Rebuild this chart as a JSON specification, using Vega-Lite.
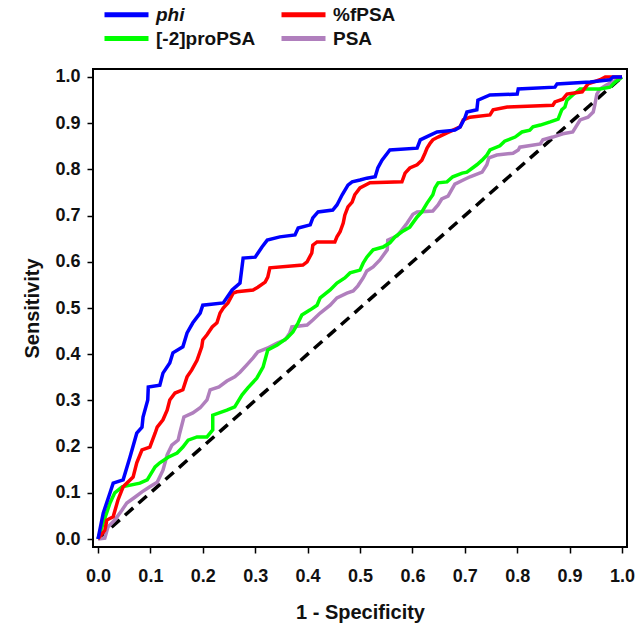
{
  "$schema": "https://vega.github.io/schema/vega-lite/v6.json",
  "width": 534,
  "height": 478,
  "autosize": {"type": "none"},
  "padding": {"left": 93, "top": 69, "right": 13, "bottom": 78},
  "config": {
    "view": {"stroke": "#000", "strokeWidth": 2},
    "font": "Liberation Sans"
  },
  "datasets": {
    "diag": [{"x": 0, "y": 0}, {"x": 1, "y": 1}],
    "roc": [
      {"s": "PSA", "x": 0, "y": 0},
      {"s": "PSA", "x": 0.013, "y": 0.002},
      {"s": "PSA", "x": 0.019, "y": 0.026},
      {"s": "PSA", "x": 0.032, "y": 0.041},
      {"s": "PSA", "x": 0.046, "y": 0.063},
      {"s": "PSA", "x": 0.055, "y": 0.078},
      {"s": "PSA", "x": 0.071, "y": 0.091},
      {"s": "PSA", "x": 0.084, "y": 0.102},
      {"s": "PSA", "x": 0.099, "y": 0.113},
      {"s": "PSA", "x": 0.113, "y": 0.123},
      {"s": "PSA", "x": 0.124, "y": 0.149},
      {"s": "PSA", "x": 0.132, "y": 0.182},
      {"s": "PSA", "x": 0.141, "y": 0.203},
      {"s": "PSA", "x": 0.153, "y": 0.214},
      {"s": "PSA", "x": 0.156, "y": 0.229},
      {"s": "PSA", "x": 0.164, "y": 0.264},
      {"s": "PSA", "x": 0.181, "y": 0.273},
      {"s": "PSA", "x": 0.195, "y": 0.284},
      {"s": "PSA", "x": 0.208, "y": 0.301},
      {"s": "PSA", "x": 0.214, "y": 0.323},
      {"s": "PSA", "x": 0.231, "y": 0.329},
      {"s": "PSA", "x": 0.246, "y": 0.342},
      {"s": "PSA", "x": 0.261, "y": 0.351},
      {"s": "PSA", "x": 0.271, "y": 0.361},
      {"s": "PSA", "x": 0.284, "y": 0.377},
      {"s": "PSA", "x": 0.296, "y": 0.392},
      {"s": "PSA", "x": 0.305, "y": 0.405},
      {"s": "PSA", "x": 0.323, "y": 0.413},
      {"s": "PSA", "x": 0.342, "y": 0.424},
      {"s": "PSA", "x": 0.357, "y": 0.431},
      {"s": "PSA", "x": 0.366, "y": 0.446},
      {"s": "PSA", "x": 0.370, "y": 0.459},
      {"s": "PSA", "x": 0.399, "y": 0.463},
      {"s": "PSA", "x": 0.410, "y": 0.474},
      {"s": "PSA", "x": 0.424, "y": 0.489},
      {"s": "PSA", "x": 0.443, "y": 0.506},
      {"s": "PSA", "x": 0.456, "y": 0.522},
      {"s": "PSA", "x": 0.475, "y": 0.532},
      {"s": "PSA", "x": 0.487, "y": 0.537},
      {"s": "PSA", "x": 0.496, "y": 0.548},
      {"s": "PSA", "x": 0.506, "y": 0.565},
      {"s": "PSA", "x": 0.513, "y": 0.580},
      {"s": "PSA", "x": 0.525, "y": 0.589},
      {"s": "PSA", "x": 0.538, "y": 0.604},
      {"s": "PSA", "x": 0.552, "y": 0.626},
      {"s": "PSA", "x": 0.553, "y": 0.647},
      {"s": "PSA", "x": 0.571, "y": 0.656},
      {"s": "PSA", "x": 0.580, "y": 0.669},
      {"s": "PSA", "x": 0.590, "y": 0.684},
      {"s": "PSA", "x": 0.601, "y": 0.703},
      {"s": "PSA", "x": 0.609, "y": 0.708},
      {"s": "PSA", "x": 0.639, "y": 0.710},
      {"s": "PSA", "x": 0.649, "y": 0.723},
      {"s": "PSA", "x": 0.656, "y": 0.736},
      {"s": "PSA", "x": 0.668, "y": 0.742},
      {"s": "PSA", "x": 0.681, "y": 0.768},
      {"s": "PSA", "x": 0.697, "y": 0.777},
      {"s": "PSA", "x": 0.710, "y": 0.784},
      {"s": "PSA", "x": 0.733, "y": 0.794},
      {"s": "PSA", "x": 0.742, "y": 0.810},
      {"s": "PSA", "x": 0.746, "y": 0.825},
      {"s": "PSA", "x": 0.761, "y": 0.831},
      {"s": "PSA", "x": 0.792, "y": 0.835},
      {"s": "PSA", "x": 0.802, "y": 0.842},
      {"s": "PSA", "x": 0.805, "y": 0.848},
      {"s": "PSA", "x": 0.844, "y": 0.855},
      {"s": "PSA", "x": 0.849, "y": 0.864},
      {"s": "PSA", "x": 0.868, "y": 0.870},
      {"s": "PSA", "x": 0.887, "y": 0.877},
      {"s": "PSA", "x": 0.906, "y": 0.881},
      {"s": "PSA", "x": 0.914, "y": 0.896},
      {"s": "PSA", "x": 0.920, "y": 0.907},
      {"s": "PSA", "x": 0.935, "y": 0.913},
      {"s": "PSA", "x": 0.945, "y": 0.924},
      {"s": "PSA", "x": 0.948, "y": 0.939},
      {"s": "PSA", "x": 0.952, "y": 0.963},
      {"s": "PSA", "x": 0.958, "y": 0.974},
      {"s": "PSA", "x": 0.971, "y": 0.983},
      {"s": "PSA", "x": 0.981, "y": 0.989},
      {"s": "PSA", "x": 0.990, "y": 0.994},
      {"s": "PSA", "x": 1, "y": 1},

      {"s": "[-2]proPSA", "x": 0, "y": 0},
      {"s": "[-2]proPSA", "x": 0.010, "y": 0.035},
      {"s": "[-2]proPSA", "x": 0.023, "y": 0.078},
      {"s": "[-2]proPSA", "x": 0.032, "y": 0.100},
      {"s": "[-2]proPSA", "x": 0.046, "y": 0.113},
      {"s": "[-2]proPSA", "x": 0.080, "y": 0.121},
      {"s": "[-2]proPSA", "x": 0.094, "y": 0.128},
      {"s": "[-2]proPSA", "x": 0.109, "y": 0.156},
      {"s": "[-2]proPSA", "x": 0.118, "y": 0.165},
      {"s": "[-2]proPSA", "x": 0.134, "y": 0.177},
      {"s": "[-2]proPSA", "x": 0.151, "y": 0.186},
      {"s": "[-2]proPSA", "x": 0.162, "y": 0.199},
      {"s": "[-2]proPSA", "x": 0.172, "y": 0.214},
      {"s": "[-2]proPSA", "x": 0.189, "y": 0.221},
      {"s": "[-2]proPSA", "x": 0.208, "y": 0.221},
      {"s": "[-2]proPSA", "x": 0.219, "y": 0.236},
      {"s": "[-2]proPSA", "x": 0.219, "y": 0.268},
      {"s": "[-2]proPSA", "x": 0.246, "y": 0.279},
      {"s": "[-2]proPSA", "x": 0.261, "y": 0.286},
      {"s": "[-2]proPSA", "x": 0.275, "y": 0.312},
      {"s": "[-2]proPSA", "x": 0.286, "y": 0.327},
      {"s": "[-2]proPSA", "x": 0.303, "y": 0.348},
      {"s": "[-2]proPSA", "x": 0.315, "y": 0.372},
      {"s": "[-2]proPSA", "x": 0.324, "y": 0.409},
      {"s": "[-2]proPSA", "x": 0.342, "y": 0.420},
      {"s": "[-2]proPSA", "x": 0.361, "y": 0.435},
      {"s": "[-2]proPSA", "x": 0.372, "y": 0.448},
      {"s": "[-2]proPSA", "x": 0.382, "y": 0.468},
      {"s": "[-2]proPSA", "x": 0.389, "y": 0.485},
      {"s": "[-2]proPSA", "x": 0.405, "y": 0.496},
      {"s": "[-2]proPSA", "x": 0.418, "y": 0.506},
      {"s": "[-2]proPSA", "x": 0.424, "y": 0.522},
      {"s": "[-2]proPSA", "x": 0.443, "y": 0.539},
      {"s": "[-2]proPSA", "x": 0.456, "y": 0.554},
      {"s": "[-2]proPSA", "x": 0.471, "y": 0.565},
      {"s": "[-2]proPSA", "x": 0.481, "y": 0.576},
      {"s": "[-2]proPSA", "x": 0.500, "y": 0.582},
      {"s": "[-2]proPSA", "x": 0.506, "y": 0.597},
      {"s": "[-2]proPSA", "x": 0.513, "y": 0.610},
      {"s": "[-2]proPSA", "x": 0.525, "y": 0.626},
      {"s": "[-2]proPSA", "x": 0.544, "y": 0.632},
      {"s": "[-2]proPSA", "x": 0.557, "y": 0.641},
      {"s": "[-2]proPSA", "x": 0.567, "y": 0.654},
      {"s": "[-2]proPSA", "x": 0.580, "y": 0.665},
      {"s": "[-2]proPSA", "x": 0.595, "y": 0.675},
      {"s": "[-2]proPSA", "x": 0.609, "y": 0.697},
      {"s": "[-2]proPSA", "x": 0.618, "y": 0.708},
      {"s": "[-2]proPSA", "x": 0.628, "y": 0.727},
      {"s": "[-2]proPSA", "x": 0.639, "y": 0.745},
      {"s": "[-2]proPSA", "x": 0.643, "y": 0.760},
      {"s": "[-2]proPSA", "x": 0.649, "y": 0.771},
      {"s": "[-2]proPSA", "x": 0.666, "y": 0.773},
      {"s": "[-2]proPSA", "x": 0.677, "y": 0.784},
      {"s": "[-2]proPSA", "x": 0.695, "y": 0.792},
      {"s": "[-2]proPSA", "x": 0.704, "y": 0.794},
      {"s": "[-2]proPSA", "x": 0.723, "y": 0.810},
      {"s": "[-2]proPSA", "x": 0.733, "y": 0.820},
      {"s": "[-2]proPSA", "x": 0.742, "y": 0.831},
      {"s": "[-2]proPSA", "x": 0.748, "y": 0.842},
      {"s": "[-2]proPSA", "x": 0.767, "y": 0.851},
      {"s": "[-2]proPSA", "x": 0.776, "y": 0.861},
      {"s": "[-2]proPSA", "x": 0.796, "y": 0.870},
      {"s": "[-2]proPSA", "x": 0.809, "y": 0.881},
      {"s": "[-2]proPSA", "x": 0.824, "y": 0.885},
      {"s": "[-2]proPSA", "x": 0.830, "y": 0.892},
      {"s": "[-2]proPSA", "x": 0.844, "y": 0.896},
      {"s": "[-2]proPSA", "x": 0.863, "y": 0.903},
      {"s": "[-2]proPSA", "x": 0.878, "y": 0.909},
      {"s": "[-2]proPSA", "x": 0.885, "y": 0.929},
      {"s": "[-2]proPSA", "x": 0.891, "y": 0.935},
      {"s": "[-2]proPSA", "x": 0.895, "y": 0.950},
      {"s": "[-2]proPSA", "x": 0.906, "y": 0.961},
      {"s": "[-2]proPSA", "x": 0.920, "y": 0.974},
      {"s": "[-2]proPSA", "x": 0.958, "y": 0.974},
      {"s": "[-2]proPSA", "x": 0.977, "y": 0.978},
      {"s": "[-2]proPSA", "x": 0.987, "y": 0.989},
      {"s": "[-2]proPSA", "x": 1, "y": 1},

      {"s": "%fPSA", "x": 0, "y": 0},
      {"s": "%fPSA", "x": 0.013, "y": 0.019},
      {"s": "%fPSA", "x": 0.017, "y": 0.041},
      {"s": "%fPSA", "x": 0.029, "y": 0.048},
      {"s": "%fPSA", "x": 0.038, "y": 0.084},
      {"s": "%fPSA", "x": 0.048, "y": 0.113},
      {"s": "%fPSA", "x": 0.067, "y": 0.134},
      {"s": "%fPSA", "x": 0.074, "y": 0.165},
      {"s": "%fPSA", "x": 0.084, "y": 0.193},
      {"s": "%fPSA", "x": 0.099, "y": 0.199},
      {"s": "%fPSA", "x": 0.109, "y": 0.229},
      {"s": "%fPSA", "x": 0.113, "y": 0.242},
      {"s": "%fPSA", "x": 0.124, "y": 0.258},
      {"s": "%fPSA", "x": 0.132, "y": 0.279},
      {"s": "%fPSA", "x": 0.137, "y": 0.301},
      {"s": "%fPSA", "x": 0.147, "y": 0.316},
      {"s": "%fPSA", "x": 0.162, "y": 0.323},
      {"s": "%fPSA", "x": 0.170, "y": 0.351},
      {"s": "%fPSA", "x": 0.179, "y": 0.366},
      {"s": "%fPSA", "x": 0.189, "y": 0.387},
      {"s": "%fPSA", "x": 0.198, "y": 0.416},
      {"s": "%fPSA", "x": 0.200, "y": 0.431},
      {"s": "%fPSA", "x": 0.208, "y": 0.442},
      {"s": "%fPSA", "x": 0.218, "y": 0.459},
      {"s": "%fPSA", "x": 0.227, "y": 0.468},
      {"s": "%fPSA", "x": 0.233, "y": 0.489},
      {"s": "%fPSA", "x": 0.239, "y": 0.500},
      {"s": "%fPSA", "x": 0.248, "y": 0.511},
      {"s": "%fPSA", "x": 0.258, "y": 0.532},
      {"s": "%fPSA", "x": 0.265, "y": 0.535},
      {"s": "%fPSA", "x": 0.296, "y": 0.539},
      {"s": "%fPSA", "x": 0.305, "y": 0.545},
      {"s": "%fPSA", "x": 0.319, "y": 0.556},
      {"s": "%fPSA", "x": 0.324, "y": 0.567},
      {"s": "%fPSA", "x": 0.328, "y": 0.587},
      {"s": "%fPSA", "x": 0.391, "y": 0.593},
      {"s": "%fPSA", "x": 0.399, "y": 0.600},
      {"s": "%fPSA", "x": 0.408, "y": 0.619},
      {"s": "%fPSA", "x": 0.410, "y": 0.636},
      {"s": "%fPSA", "x": 0.418, "y": 0.643},
      {"s": "%fPSA", "x": 0.452, "y": 0.643},
      {"s": "%fPSA", "x": 0.456, "y": 0.654},
      {"s": "%fPSA", "x": 0.462, "y": 0.665},
      {"s": "%fPSA", "x": 0.468, "y": 0.684},
      {"s": "%fPSA", "x": 0.471, "y": 0.701},
      {"s": "%fPSA", "x": 0.477, "y": 0.719},
      {"s": "%fPSA", "x": 0.485, "y": 0.729},
      {"s": "%fPSA", "x": 0.490, "y": 0.745},
      {"s": "%fPSA", "x": 0.500, "y": 0.760},
      {"s": "%fPSA", "x": 0.519, "y": 0.771},
      {"s": "%fPSA", "x": 0.580, "y": 0.773},
      {"s": "%fPSA", "x": 0.586, "y": 0.792},
      {"s": "%fPSA", "x": 0.595, "y": 0.803},
      {"s": "%fPSA", "x": 0.609, "y": 0.810},
      {"s": "%fPSA", "x": 0.618, "y": 0.820},
      {"s": "%fPSA", "x": 0.624, "y": 0.835},
      {"s": "%fPSA", "x": 0.628, "y": 0.846},
      {"s": "%fPSA", "x": 0.634, "y": 0.857},
      {"s": "%fPSA", "x": 0.639, "y": 0.864},
      {"s": "%fPSA", "x": 0.649, "y": 0.870},
      {"s": "%fPSA", "x": 0.666, "y": 0.879},
      {"s": "%fPSA", "x": 0.691, "y": 0.892},
      {"s": "%fPSA", "x": 0.697, "y": 0.907},
      {"s": "%fPSA", "x": 0.710, "y": 0.913},
      {"s": "%fPSA", "x": 0.748, "y": 0.918},
      {"s": "%fPSA", "x": 0.754, "y": 0.929},
      {"s": "%fPSA", "x": 0.781, "y": 0.935},
      {"s": "%fPSA", "x": 0.868, "y": 0.939},
      {"s": "%fPSA", "x": 0.872, "y": 0.946},
      {"s": "%fPSA", "x": 0.887, "y": 0.952},
      {"s": "%fPSA", "x": 0.895, "y": 0.963},
      {"s": "%fPSA", "x": 0.924, "y": 0.968},
      {"s": "%fPSA", "x": 0.935, "y": 0.985},
      {"s": "%fPSA", "x": 0.958, "y": 0.994},
      {"s": "%fPSA", "x": 0.968, "y": 1},
      {"s": "%fPSA", "x": 1, "y": 1},

      {"s": "phi", "x": 0, "y": 0},
      {"s": "phi", "x": 0.010, "y": 0.056},
      {"s": "phi", "x": 0.023, "y": 0.100},
      {"s": "phi", "x": 0.029, "y": 0.121},
      {"s": "phi", "x": 0.048, "y": 0.128},
      {"s": "phi", "x": 0.061, "y": 0.177},
      {"s": "phi", "x": 0.074, "y": 0.229},
      {"s": "phi", "x": 0.084, "y": 0.242},
      {"s": "phi", "x": 0.086, "y": 0.264},
      {"s": "phi", "x": 0.095, "y": 0.301},
      {"s": "phi", "x": 0.096, "y": 0.329},
      {"s": "phi", "x": 0.118, "y": 0.333},
      {"s": "phi", "x": 0.124, "y": 0.359},
      {"s": "phi", "x": 0.137, "y": 0.381},
      {"s": "phi", "x": 0.143, "y": 0.403},
      {"s": "phi", "x": 0.162, "y": 0.416},
      {"s": "phi", "x": 0.170, "y": 0.446},
      {"s": "phi", "x": 0.181, "y": 0.468},
      {"s": "phi", "x": 0.195, "y": 0.489},
      {"s": "phi", "x": 0.200, "y": 0.506},
      {"s": "phi", "x": 0.239, "y": 0.511},
      {"s": "phi", "x": 0.256, "y": 0.539},
      {"s": "phi", "x": 0.271, "y": 0.554},
      {"s": "phi", "x": 0.277, "y": 0.608},
      {"s": "phi", "x": 0.300, "y": 0.610},
      {"s": "phi", "x": 0.313, "y": 0.632},
      {"s": "phi", "x": 0.323, "y": 0.647},
      {"s": "phi", "x": 0.347, "y": 0.654},
      {"s": "phi", "x": 0.376, "y": 0.658},
      {"s": "phi", "x": 0.382, "y": 0.673},
      {"s": "phi", "x": 0.405, "y": 0.680},
      {"s": "phi", "x": 0.410, "y": 0.695},
      {"s": "phi", "x": 0.420, "y": 0.708},
      {"s": "phi", "x": 0.448, "y": 0.712},
      {"s": "phi", "x": 0.456, "y": 0.723},
      {"s": "phi", "x": 0.466, "y": 0.745},
      {"s": "phi", "x": 0.477, "y": 0.766},
      {"s": "phi", "x": 0.485, "y": 0.773},
      {"s": "phi", "x": 0.500, "y": 0.777},
      {"s": "phi", "x": 0.513, "y": 0.781},
      {"s": "phi", "x": 0.529, "y": 0.784},
      {"s": "phi", "x": 0.534, "y": 0.803},
      {"s": "phi", "x": 0.542, "y": 0.820},
      {"s": "phi", "x": 0.557, "y": 0.842},
      {"s": "phi", "x": 0.609, "y": 0.846},
      {"s": "phi", "x": 0.615, "y": 0.864},
      {"s": "phi", "x": 0.634, "y": 0.874},
      {"s": "phi", "x": 0.647, "y": 0.881},
      {"s": "phi", "x": 0.681, "y": 0.885},
      {"s": "phi", "x": 0.691, "y": 0.892},
      {"s": "phi", "x": 0.700, "y": 0.911},
      {"s": "phi", "x": 0.704, "y": 0.924},
      {"s": "phi", "x": 0.723, "y": 0.929},
      {"s": "phi", "x": 0.725, "y": 0.950},
      {"s": "phi", "x": 0.748, "y": 0.961},
      {"s": "phi", "x": 0.800, "y": 0.963},
      {"s": "phi", "x": 0.802, "y": 0.974},
      {"s": "phi", "x": 0.872, "y": 0.978},
      {"s": "phi", "x": 0.876, "y": 0.985},
      {"s": "phi", "x": 0.939, "y": 0.989},
      {"s": "phi", "x": 0.977, "y": 0.994},
      {"s": "phi", "x": 0.983, "y": 1},
      {"s": "phi", "x": 1, "y": 1}
    ]
  },
  "encoding": {
    "x": {
      "field": "x", "type": "quantitative",
      "scale": {"domain": [-0.0095, 1.0095], "nice": false, "zero": false},
      "axis": {
        "values": [0, 0.1, 0.2, 0.3, 0.4, 0.5, 0.6, 0.7, 0.8, 0.9, 1.0],
        "format": ".1f", "domain": false, "grid": false,
        "tickSize": 6, "tickWidth": 1.5, "tickColor": "#000",
        "labelFont": "Liberation Sans", "labelFontWeight": "bold", "labelFontSize": 18,
        "labelColor": "#111", "labelPadding": 14, "labelFlush": false, "labelOverlap": false,
        "title": "1 - Specificity", "titleFont": "Liberation Sans", "titleFontWeight": "bold",
        "titleFontSize": 20, "titleColor": "#111", "titlePadding": 17
      }
    },
    "y": {
      "field": "y", "type": "quantitative",
      "scale": {"domain": [-0.0173, 1.0173], "nice": false, "zero": false},
      "axis": {
        "values": [0, 0.1, 0.2, 0.3, 0.4, 0.5, 0.6, 0.7, 0.8, 0.9, 1.0],
        "format": ".1f", "domain": false, "grid": false,
        "tickSize": 6, "tickWidth": 1.5, "tickColor": "#000",
        "labelFont": "Liberation Sans", "labelFontWeight": "bold", "labelFontSize": 18,
        "labelColor": "#111", "labelPadding": 7, "labelFlush": false, "labelOverlap": false,
        "title": "Sensitivity", "titleFont": "Liberation Sans", "titleFontWeight": "bold",
        "titleFontSize": 20, "titleColor": "#111", "titlePadding": 12
      }
    }
  },
  "layer": [
    {
      "data": {"name": "diag"},
      "mark": {"type": "line", "color": "#000", "strokeWidth": 3.5, "strokeDash": [11, 7]}
    },
    {
      "data": {"name": "roc"},
      "mark": {"type": "line", "strokeWidth": 3.5},
      "encoding": {
        "order": [{"field": "x", "type": "quantitative"}, {"field": "y", "type": "quantitative"}],
        "color": {
          "field": "s", "type": "nominal",
          "scale": {
            "domain": ["phi", "%fPSA", "[-2]proPSA", "PSA"],
            "range": ["#0000ff", "#ff0000", "#00ff00", "#b07fbd"]
          },
          "legend": {
            "orient": "none", "legendX": 24, "legendY": -64,
            "direction": "horizontal", "columns": 2, "title": null,
            "symbolType": "M-4.4,0H4.4", "symbolSize": 100, "symbolStrokeWidth": 5,
            "labelFont": "Liberation Sans", "labelFontSize": 19, "labelFontWeight": "bold",
            "labelColor": "#111", "labelOffset": 20, "columnPadding": 15, "rowPadding": 3,
            "padding": 0,
            "encode": {
              "labels": {
                "update": {
                  "fontStyle": {"signal": "datum.label == 'phi' ? 'italic' : 'normal'"}
                }
              }
            }
          }
        }
      }
    }
  ]
}
